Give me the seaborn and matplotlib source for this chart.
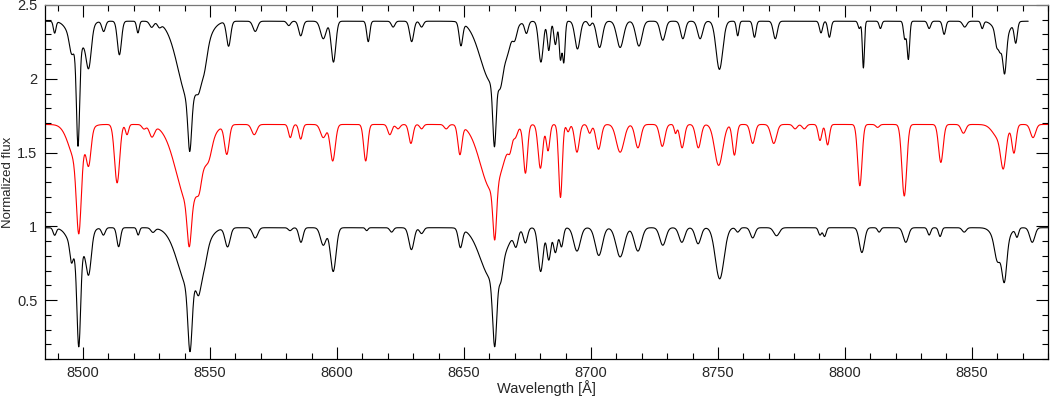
import numpy as np
import matplotlib
matplotlib.use('Agg')
import matplotlib.pyplot as plt
import seaborn as sns
from matplotlib.ticker import MultipleLocator

# Line lists: centre [A], fractional depth, gaussian width [A]
# (the wide entries are the Ca II wings)
# top spectrum (black, shifted +1.4)
top_center = [8488.8, 8495.4, 8498.0, 8498.0, 8502.2, 8508.1, 8514.3, 8521.6, 8527.0, 8530.0,
              8542.0, 8542.0, 8545.5, 8547.5, 8557.3, 8567.8, 8581.0, 8585.7, 8594.6, 8598.6,
              8612.3, 8622.1, 8629.4, 8633.3, 8648.8, 8661.0, 8662.0, 8664.3, 8667.0, 8670.0,
              8674.6, 8680.3, 8683.4, 8686.0, 8688.0, 8689.3, 8694.7, 8699.5, 8703.4, 8711.5,
              8718.9, 8728.3, 8736.2, 8743.0, 8750.6, 8757.8, 8764.4, 8772.6, 8790.6, 8793.9,
              8805.7, 8807.3, 8814.0, 8823.6, 8825.0, 8833.2, 8839.1, 8847.2, 8854.1, 8859.8,
              8861.1, 8862.0, 8862.9, 8867.3]
top_depth = [0.08, 0.10, 0.20, 0.82, 0.27, 0.07, 0.23, 0.08, 0.04, 0.03,
             0.55, 0.76, 0.12, 0.15, 0.17, 0.07, 0.03, 0.10, 0.12, 0.28,
             0.14, 0.04, 0.14, 0.04, 0.16, 0.42, 0.76, 0.20, 0.08, 0.08,
             0.08, 0.28, 0.20, 0.16, 0.26, 0.28, 0.19, 0.03, 0.18, 0.18,
             0.17, 0.13, 0.12, 0.12, 0.33, 0.10, 0.11, 0.12, 0.08, 0.11,
             0.05, 0.32, 0.05, 0.12, 0.26, 0.05, 0.09, 0.04, 0.05, 0.10,
             0.10, 0.12, 0.28, 0.14]
top_width = [0.5, 0.8, 3.0, 0.6, 1.0, 0.7, 0.8, 0.5, 0.8, 0.7,
             4.5, 0.7, 0.8, 1.2, 0.8, 0.9, 0.7, 0.8, 1.1, 0.9,
             0.6, 0.7, 0.8, 0.7, 0.7, 4.5, 0.65, 1.0, 1.2, 0.8,
             0.7, 0.9, 0.6, 0.6, 0.5, 0.5, 1.0, 0.6, 1.1, 1.3,
             1.2, 1.0, 0.9, 1.0, 1.3, 0.5, 0.6, 0.8, 0.6, 0.6,
             0.5, 0.4, 0.5, 0.5, 0.5, 0.6, 0.6, 0.8, 0.5, 0.6,
             0.6, 2.5, 0.7, 0.6]

# middle spectrum (red, shifted +0.7)
mid_center = [8497.5, 8498.3, 8502.2, 8513.4, 8517.3, 8524.0, 8527.1, 8541.8, 8541.8, 8545.7,
              8549.5, 8556.6, 8567.4, 8581.6, 8585.7, 8594.6, 8598.3, 8611.3, 8620.8, 8624.0,
              8629.1, 8633.3, 8643.0, 8648.4, 8661.0, 8662.1, 8668.1, 8670.3, 8674.2, 8680.1,
              8683.1, 8688.0, 8691.0, 8694.5, 8699.5, 8703.0, 8711.5, 8718.5, 8728.1, 8733.3,
              8735.9, 8742.3, 8750.3, 8756.5, 8763.7, 8772.0, 8780.4, 8784.0, 8790.2, 8793.2,
              8805.9, 8812.9, 8823.4, 8837.8, 8846.7, 8861.0, 8862.4, 8866.6, 8874.1]
mid_depth = [0.25, 0.67, 0.23, 0.40, 0.07, 0.03, 0.08, 0.55, 0.64, 0.12,
             0.10, 0.20, 0.07, 0.09, 0.10, 0.09, 0.25, 0.25, 0.07, 0.03,
             0.13, 0.03, 0.03, 0.20, 0.45, 0.63, 0.08, 0.04, 0.33, 0.30,
             0.18, 0.50, 0.05, 0.19, 0.06, 0.17, 0.19, 0.16, 0.15, 0.06,
             0.16, 0.16, 0.28, 0.21, 0.13, 0.13, 0.03, 0.03, 0.11, 0.14,
             0.42, 0.02, 0.49, 0.26, 0.06, 0.10, 0.24, 0.19, 0.09]
mid_width = [3.0, 0.9, 0.9, 1.0, 0.6, 0.8, 1.0, 5.0, 0.8, 0.8,
             1.2, 0.9, 1.0, 0.7, 0.7, 1.1, 1.0, 0.8, 0.8, 0.8,
             0.8, 0.7, 0.8, 0.8, 4.5, 0.7, 0.7, 0.7, 0.8, 0.9,
             0.7, 0.7, 0.6, 0.9, 0.7, 1.0, 1.5, 1.1, 1.0, 0.5,
             0.9, 1.0, 1.6, 0.8, 0.9, 1.1, 0.8, 0.8, 0.7, 0.7,
             0.85, 0.7, 0.95, 0.9, 0.9, 2.5, 1.0, 0.8, 1.0]

# bottom spectrum (black, no shift)
bot_center = [8488.8, 8495.4, 8498.0, 8498.3, 8502.2, 8508.0, 8514.0, 8521.7, 8527.5, 8542.0,
              8542.1, 8545.5, 8547.5, 8556.9, 8567.8, 8581.5, 8585.8, 8594.6, 8598.5, 8611.7,
              8621.5, 8629.3, 8633.3, 8648.6, 8661.0, 8662.1, 8664.5, 8670.5, 8674.2, 8680.2,
              8683.4, 8686.0, 8688.4, 8694.5, 8703.1, 8711.5, 8718.5, 8728.3, 8735.8, 8742.2,
              8750.7, 8757.8, 8763.7, 8773.1, 8790.2, 8792.0, 8806.7, 8813.5, 8824.0, 8833.2,
              8837.5, 8847.0, 8860.0, 8861.5, 8862.8, 8867.8, 8873.8]
bot_depth = [0.05, 0.12, 0.20, 0.77, 0.27, 0.05, 0.13, 0.05, 0.03, 0.42,
             0.74, 0.20, 0.12, 0.13, 0.07, 0.02, 0.10, 0.12, 0.30, 0.02,
             0.03, 0.15, 0.04, 0.13, 0.35, 0.72, 0.15, 0.10, 0.10, 0.30,
             0.22, 0.17, 0.13, 0.16, 0.19, 0.20, 0.16, 0.12, 0.10, 0.11,
             0.35, 0.03, 0.07, 0.055, 0.05, 0.06, 0.17, 0.03, 0.10, 0.05,
             0.06, 0.03, 0.12, 0.15, 0.28, 0.06, 0.10]
bot_width = [0.6, 0.6, 3.0, 0.7, 1.0, 0.7, 0.7, 0.5, 0.8, 4.5,
             0.8, 0.9, 1.2, 1.0, 1.0, 0.7, 0.8, 1.1, 1.1, 0.5,
             0.7, 1.0, 0.8, 0.8, 4.5, 0.8, 0.8, 0.8, 0.8, 1.0,
             0.8, 0.8, 0.7, 1.3, 1.4, 1.6, 1.4, 1.2, 1.1, 1.1,
             1.7, 0.7, 0.9, 1.1, 0.6, 0.6, 1.0, 0.6, 1.0, 0.6,
             0.6, 0.8, 1.0, 2.5, 0.9, 0.6, 1.0]

continuum = 0.99
offsets = [1.4, 0.7, 0.0]
ends = [8872.2, 8880.0, 8880.0]
colors = ['black', 'red', 'black']


def spectrum(wl, centers, depths, widths):
    flux = np.full_like(wl, continuum)
    for c, d, w in zip(centers, depths, widths):
        flux *= 1 - d * np.exp(-0.5 * ((wl - c) / w) ** 2)
    return flux


sns.set_theme(style='ticks')
plt.rcParams['font.family'] = ['Liberation Sans', 'DejaVu Sans']

fig = plt.figure(figsize=(10.5, 3.96), dpi=100)
ax = fig.add_axes([45 / 1050, 37 / 396, 1003 / 1050, 354 / 396])

lists = [(top_center, top_depth, top_width),
         (mid_center, mid_depth, mid_width),
         (bot_center, bot_depth, bot_width)]
for (cen, dep, wid), off, end, col in zip(lists, offsets, ends, colors):
    wl = np.arange(8485.0, end, 0.1)
    fl = spectrum(wl, cen, dep, wid) + off
    sns.lineplot(x=wl, y=fl, color=col, linewidth=0.8, ax=ax,
                 estimator=None, sort=False)

ax.set_xlim(8485, 8880)
ax.set_ylim(0.1, 2.5)
ax.xaxis.set_major_locator(MultipleLocator(50))
ax.xaxis.set_minor_locator(MultipleLocator(10))
ax.yaxis.set_major_locator(MultipleLocator(0.5))
ax.yaxis.set_minor_locator(MultipleLocator(0.1))
ax.yaxis.set_major_formatter(plt.FuncFormatter(lambda v, p: f'{v:g}'))
ax.tick_params(which='both', direction='in', top=True, right=True,
               color='black', labelsize=10.5, width=0.8)
ax.tick_params(which='major', length=8.6)
ax.tick_params(which='minor', length=4.3)
ax.tick_params(axis='x', which='major', pad=4.8)
ax.tick_params(axis='y', which='major', pad=5.5)
for s in ax.spines.values():
    s.set_color('black')
    s.set_linewidth(0.9)
ax.spines['top'].set_color('#777777')

ax.set_xlabel('Wavelength [Å]', fontsize=10.5, labelpad=0)
ax.set_ylabel('Normalized flux', fontsize=9.5, labelpad=2)
ax.grid(False)

fig.savefig('out.png', dpi=100)
